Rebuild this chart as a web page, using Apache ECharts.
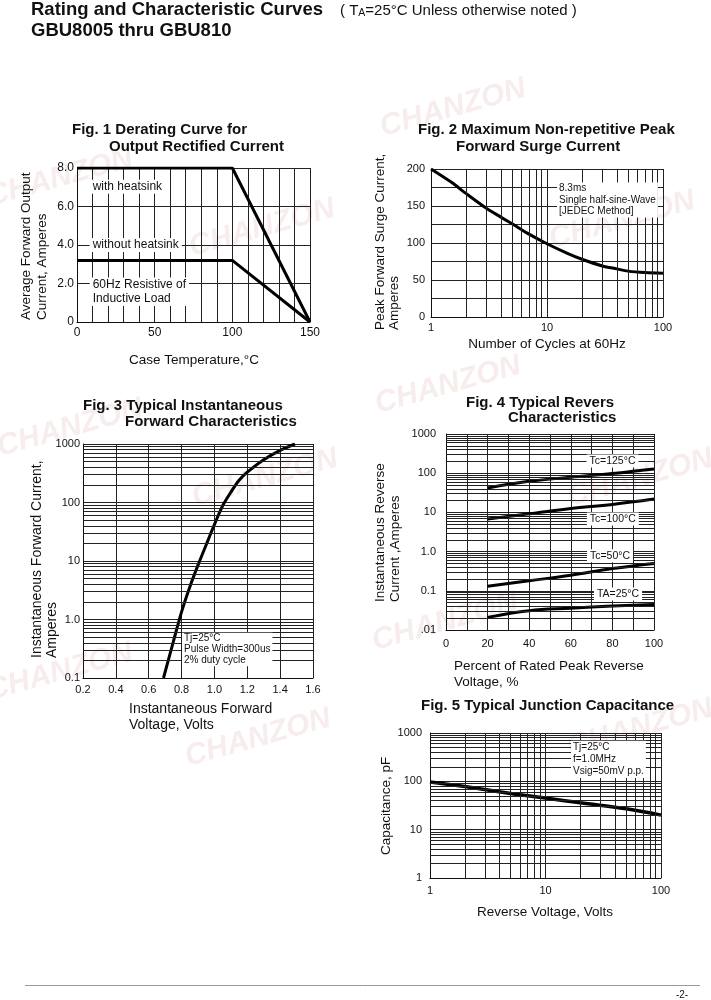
<!DOCTYPE html>
<html>
<head>
<meta charset="utf-8">
<title>GBU8005 thru GBU810 - Rating and Characteristic Curves</title>
<script src="https://cdn.jsdelivr.net/npm/echarts@6/dist/echarts.min.js"></script>
<style>
    html, body { margin: 0; padding: 0; background: #ffffff; }
    #main { width: 711px; height: 1000px; }
</style>
</head>
<body>
<div id="main"></div>
<script>
// Fig. 1 derating curve
const fig1WithSink = [[0, 8], [100, 8], [150, 0]];
const fig1NoSink = [[0, 3.2], [100, 3.2], [150, 0]];
const fig1XLabels = [0, 50, 100, 150];
const fig1YLabels = ['0', '2.0', '4.0', '6.0', '8.0'];

// Fig. 2 surge current vs number of cycles
const fig2Cycles = [1, 1.5, 2, 3, 4, 5, 7, 10, 15, 20, 30, 40, 50, 70, 100];
const fig2Surge = [200, 182, 167, 147, 135, 126, 112, 99, 86, 78, 69, 65, 62, 60, 59];
const fig2XLabels = ['1', '10', '100'];
const fig2YLabels = [0, 50, 100, 150, 200];

// Fig. 3 forward characteristics
const fig3Volts = [0.69, 0.75, 0.8, 0.85, 0.9, 0.95, 1.0, 1.05, 1.1, 1.15, 1.2, 1.3, 1.4, 1.49];
const fig3Amps = [0.1, 0.42, 1.35, 3.6, 8.5, 19, 42, 88, 150, 240, 330, 540, 780, 1000];
const fig3YLabels = ['0.1', '1.0', '10', '100', '1000'];

// Fig. 4 reverse characteristics
const fig4Percent = [20, 40, 60, 80, 100];
const fig4Tc125 = [42, 62, 79, 98, 128];
const fig4Tc100 = [6.8, 9.2, 12.5, 16, 22];
const fig4Tc50 = [0.13, 0.18, 0.25, 0.37, 0.5];
const fig4Ta25 = [0.021, 0.031, 0.036, 0.041, 0.045];
const fig4XLabels = [0, 20, 40, 60, 80, 100];
const fig4YLabels = ['.01', '0.1', '1.0', '10', '100', '1000'];

// Fig. 5 junction capacitance
const fig5Volts = [1, 2, 5, 10, 20, 50, 100];
const fig5Cap = [97, 78, 56, 45, 36, 27, 20];
const fig5XLabels = ['1', '10', '100'];
const fig5YLabels = ['1', '10', '100', '1000'];

const FONT = '"Liberation Sans", Arial, sans-serif';
const INK = '#111111';
const GRID = '#222222';

function pair(xs, ys) {
    return xs.map((x, i) => [x, ys[i]]);
}

// 2..9 gridlines inside each decade of a log axis
function minorLogs(loExp, hiExp) {
    const out = [];
    for (let e = loExp; e < hiExp; e++) {
        for (let m = 2; m <= 9; m++) {
            out.push(m * Math.pow(10, e));
        }
    }
    return out;
}

function minorLines(axis, values) {
    return {
        silent: true,
        symbol: ['none', 'none'],
        label: {show: false},
        emphasis: {disabled: true},
        lineStyle: {color: GRID, width: 1, type: 'solid', opacity: 1},
        data: values.map(v => ({[axis]: v}))
    };
}

function logLabel(labels, loExp) {
    return function (v) {
        return labels[Math.round(Math.log10(v)) - loExp] || '';
    };
}

function axis(gridIndex, cfg, label) {
    return Object.assign({
        gridIndex: gridIndex,
        axisLine: {show: true, onZero: false, lineStyle: {color: INK, width: 1}},
        axisTick: {show: false},
        splitLine: {show: true, lineStyle: {color: GRID, width: 1}},
        axisLabel: Object.assign({color: INK, fontFamily: FONT, fontSize: 11}, label)
    }, cfg);
}

function curve(x, y, data, extra) {
    return Object.assign({
        type: 'line',
        xAxisIndex: x,
        yAxisIndex: y,
        data: data,
        symbol: 'none',
        silent: true,
        lineStyle: {color: '#000', width: 3}
    }, extra);
}

function txt(x, y, text, o) {
    o = o || {};
    const style = {
        text: text,
        fill: INK,
        fontFamily: FONT,
        fontSize: o.size || 13.5,
        fontWeight: o.weight || 'normal',
        fontStyle: o.italic ? 'italic' : 'normal',
        align: o.align || 'left',
        verticalAlign: o.valign || 'middle'
    };
    if (o.lh) style.lineHeight = o.lh;
    if (o.bg) {
        style.backgroundColor = o.bg;
        style.padding = o.pad || [0, 2];
    }
    if (o.fill) style.fill = o.fill;
    return {type: 'text', x: x, y: y, rotation: o.rot || 0, z: o.z == null ? 50 : o.z, silent: true, style: style};
}

function figTitle(text, left, centerY) {
    return {
        text: text, left: left, top: centerY - 8.5, padding: 0,
        textStyle: {fontFamily: FONT, fontSize: 15, fontWeight: 'bold', color: INK, lineHeight: 17}
    };
}

const UP = Math.PI / 2;
const WM = 0.27;
const watermarks = [[60, 178], [262, 228], [453, 108], [622, 220], [70, 428], [265, 478],
    [448, 385], [640, 478], [60, 672], [258, 738], [445, 622], [640, 728]];

const option = {
    backgroundColor: '#ffffff',
    animation: false,
    title: [
        {
            text: 'Rating and Characteristic Curves', left: 31, top: -1, padding: 0,
            textStyle: {fontFamily: FONT, fontSize: 18.5, fontWeight: 'bold', color: INK, lineHeight: 21}
        },
        {
            text: '( T{s|A}=25°C Unless otherwise noted )', left: 340, top: 2, padding: 0,
            textStyle: {
                fontFamily: FONT, fontSize: 15, fontWeight: 'normal', color: INK, lineHeight: 17,
                rich: {s: {fontFamily: FONT, fontSize: 10.5, fontWeight: 'normal', color: INK, lineHeight: 15, verticalAlign: 'bottom'}}
            }
        },
        {
            text: 'GBU8005 thru GBU810', left: 31, top: 20, padding: 0,
            textStyle: {fontFamily: FONT, fontSize: 18.5, fontWeight: 'bold', color: INK, lineHeight: 21}
        },
        figTitle('Fig. 1 Derating Curve for', 72, 130),
        figTitle('Output Rectified Current', 109, 147),
        figTitle('Fig. 2 Maximum Non-repetitive Peak', 418, 130),
        figTitle('Forward Surge Current', 456, 147),
        figTitle('Fig. 3 Typical Instantaneous', 83, 406),
        figTitle('Forward Characteristics', 125, 422),
        figTitle('Fig. 4 Typical Revers', 466, 402.5),
        figTitle('Characteristics', 508, 418),
        figTitle('Fig. 5 Typical Junction Capacitance', 421, 706)
    ],
    grid: [
        {left: 77, top: 168, width: 233, height: 154},
        {left: 431, top: 169, width: 232, height: 148},
        {left: 83, top: 444, width: 230, height: 234},
        {left: 446, top: 434, width: 208, height: 196},
        {left: 430, top: 733, width: 231, height: 145}
    ],
    xAxis: [
        axis(0, {type: 'value', min: 0, max: 150, interval: 10},
            {fontSize: 12, margin: 5, formatter: v => fig1XLabels.includes(v) ? String(v) : ''}),
        axis(1, {type: 'log', logBase: 10, min: 1, max: 100},
            {margin: 5, formatter: logLabel(fig2XLabels, 0)}),
        axis(2, {type: 'value', min: 0.2, max: 1.6, interval: 0.2},
            {margin: 6, formatter: v => v.toFixed(1)}),
        axis(3, {type: 'value', min: 0, max: 100, interval: 10},
            {margin: 8, formatter: v => fig4XLabels.includes(v) ? String(v) : ''}),
        axis(4, {type: 'log', logBase: 10, min: 1, max: 100},
            {margin: 7, formatter: logLabel(fig5XLabels, 0)})
    ],
    yAxis: [
        axis(0, {type: 'value', min: 0, max: 8, interval: 2},
            {fontSize: 12, margin: 3, formatter: v => fig1YLabels[Math.round(v / 2)]}),
        axis(1, {type: 'value', min: 0, max: 200, interval: 25},
            {margin: 6, formatter: v => fig2YLabels.includes(v) ? String(v) : ''}),
        axis(2, {type: 'log', logBase: 10, min: 0.1, max: 1000},
            {margin: 3, formatter: logLabel(fig3YLabels, -1)}),
        axis(3, {type: 'log', logBase: 10, min: 0.01, max: 1000},
            {margin: 10, formatter: logLabel(fig4YLabels, -2)}),
        axis(4, {type: 'log', logBase: 10, min: 1, max: 1000},
            {margin: 8, formatter: logLabel(fig5YLabels, 0)})
    ],
    series: [
        curve(0, 0, fig1WithSink, {name: 'with heatsink'}),
        curve(0, 0, fig1NoSink, {name: 'without heatsink'}),
        curve(1, 1, pair(fig2Cycles, fig2Surge), {
            name: 'surge', smooth: 0.3,
            markLine: minorLines('xAxis', minorLogs(0, 2))
        }),
        curve(2, 2, pair(fig3Volts, fig3Amps), {
            name: 'forward', smooth: 0.3,
            markLine: minorLines('yAxis', minorLogs(-1, 3))
        }),
        curve(3, 3, pair(fig4Percent, fig4Tc125), {
            name: 'Tc=125°C', smooth: 0.4,
            markLine: minorLines('yAxis', minorLogs(-2, 3))
        }),
        curve(3, 3, pair(fig4Percent, fig4Tc100), {name: 'Tc=100°C', smooth: 0.4}),
        curve(3, 3, pair(fig4Percent, fig4Tc50), {name: 'Tc=50°C', smooth: 0.4}),
        curve(3, 3, pair(fig4Percent, fig4Ta25), {name: 'TA=25°C', smooth: 0.4}),
        curve(4, 4, pair(fig5Volts, fig5Cap), {
            name: 'capacitance', smooth: 0.4, lineStyle: {color: '#000', width: 3.5},
            markLine: minorLines('yAxis', minorLogs(0, 3))
        }),
        curve(4, 4, [], {
            name: 'fig5 grid',
            markLine: minorLines('xAxis', minorLogs(0, 2))
        })
    ],
    graphic: [].concat(
        watermarks.map(p => txt(p[0], p[1], 'CHANZON', {
            size: 30, weight: 'bold', italic: true, align: 'center', rot: WM, fill: '#f8eded', z: -10
        })),
        [
            // axis titles
            txt(19, 320, 'Average Forward Output\nCurrent, Amperes', {rot: UP, valign: 'top', lh: 15.5}),
            txt(194, 360, 'Case Temperature,°C', {align: 'center'}),
            txt(373, 330, 'Peak Forward Surge Current,\nAmperes', {rot: UP, valign: 'top', lh: 14}),
            txt(547, 344, 'Number of Cycles at 60Hz', {align: 'center'}),
            txt(29, 658, 'Instantaneous Forward Current,\nAmperes', {rot: UP, valign: 'top', lh: 15.4, size: 14}),
            txt(129, 717, 'Instantaneous Forward\nVoltage, Volts', {lh: 15.7, size: 14}),
            txt(373, 602, 'Instantaneous Reverse\nCurrent ,Amperes', {rot: UP, valign: 'top', lh: 15}),
            txt(454, 674, 'Percent of Rated Peak Reverse\nVoltage, %', {lh: 15.7}),
            txt(379, 855, 'Capacitance, pF', {rot: UP, valign: 'top'}),
            txt(545, 912, 'Reverse Voltage, Volts', {align: 'center'}),

            // notes inside plots
            txt(89.7, 186.7, 'with heatsink', {size: 12, bg: '#fff', pad: [1, 3]}),
            txt(89.7, 245, 'without heatsink', {size: 12, bg: '#fff', pad: [1, 3]}),
            txt(89.7, 291.7, '60Hz Resistive of\nInductive Load', {size: 12, lh: 13.3, bg: '#fff', pad: [1, 3]}),
            txt(557, 200, '8.3ms\nSingle half-sine-Wave\n[JEDEC Method]', {size: 10, lh: 11.7, bg: '#fff', pad: [0, 2]}),
            txt(182, 649.5, 'Tj=25°C\nPulse Width=300us\n2% duty cycle', {size: 10, lh: 11.2, bg: '#fff', pad: [0, 2]}),
            txt(612.5, 461, 'Tc=125°C', {size: 10.5, align: 'center', bg: '#fff', pad: [1, 3]}),
            txt(612.8, 519, 'Tc=100°C', {size: 10.5, align: 'center', bg: '#fff', pad: [1, 3]}),
            txt(610, 555.7, 'Tc=50°C', {size: 10.5, align: 'center', bg: '#fff', pad: [1, 3]}),
            txt(618, 594, 'TA=25°C', {size: 10.5, align: 'center', bg: '#fff', pad: [1, 3]}),
            txt(571, 759.4, 'Tj=25°C\nf=1.0MHz\nVsig=50mV p.p.', {size: 10, lh: 11.7, bg: '#fff', pad: [1, 2]}),

            // page footer
            {
                type: 'line', z: 50, silent: true,
                shape: {x1: 25, y1: 985.5, x2: 700, y2: 985.5},
                style: {stroke: '#9a9a9a', lineWidth: 1}
            },
            txt(682, 995, '-2-', {size: 10, align: 'center'})
        ]
    )
};

const myChart = echarts.init(document.getElementById('main'), null, {renderer: 'canvas'});
myChart.setOption(option);
window.onresize = function () {
    myChart.resize();
};
</script>
</body>
</html>
